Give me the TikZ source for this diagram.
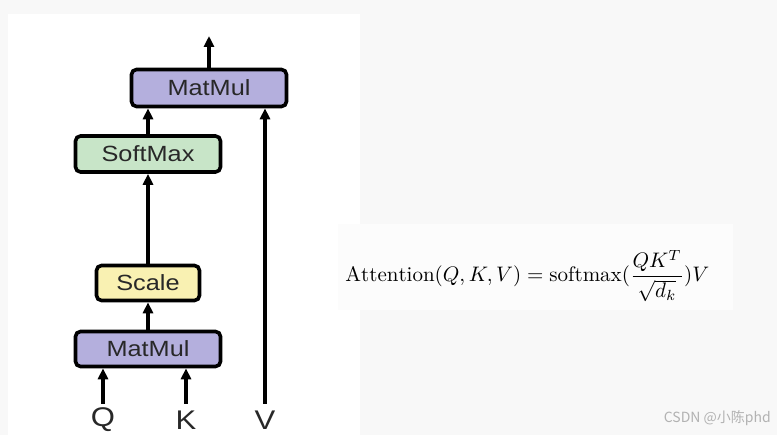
\documentclass[tikz,border=0pt]{standalone}
\usepackage{fontspec}
\usepackage{amsmath}
\setsansfont[FakeStretch=1.15]{Liberation Sans}
\newfontfamily\cjkwm{Noto Sans CJK SC}
\usetikzlibrary{arrows.meta}
\definecolor{lav}{RGB}{180,175,221}
\definecolor{mint}{RGB}{200,229,200}
\definecolor{pale}{RGB}{249,241,178}
\definecolor{bg}{RGB}{248,248,248}
\definecolor{ink}{RGB}{40,40,40}
\tikzset{
  opbox/.style={draw=black, line width=3.6pt, rounded corners=5pt, inner sep=0pt,
    font=\sffamily\fontsize{22}{22}\selectfont, text=ink},
  flow/.style={line width=3.2pt, -{Triangle[width=10pt,length=11pt]}},
  inlab/.style={font=\sffamily\fontsize{27}{27}\selectfont, text=ink, inner sep=0pt},
}
\begin{document}
\begin{tikzpicture}[x=1pt,y=-1pt]
\useasboundingbox (0,0) rectangle (777,435);
\fill[bg] (0,0) rectangle (777,435);
\fill[white] (8,14) rectangle (360,435);
\fill[white!60!bg] (338,224) rectangle (733,310);

\node[opbox, fill=lav, minimum width=155pt, minimum height=37pt] (mm2) at (209,88) {MatMul};
\node[opbox, fill=mint, minimum width=145pt, minimum height=36pt] (sm) at (148,154) {SoftMax};
\node[opbox, fill=pale, minimum width=103pt, minimum height=35pt] (sc) at (148,283) {Scale};
\node[opbox, fill=lav, minimum width=145pt, minimum height=35pt] (mm1) at (148,349) {MatMul};

\node[inlab] (Q) at (103,420) {Q};
\node[inlab] (K) at (186,420) {K};
\node[inlab] (V) at (265,420) {V};
\coordinate (out) at (209,36);

\draw[flow] (Q.north |- 0,404) -- (Q.north |- mm1.south);
\draw[flow] (K.north |- 0,404) -- (K.north |- mm1.south);
\draw[flow] (V.north |- 0,404) -- (V.north |- mm2.south);
\draw[flow] (mm1.north) -- (sc.south);
\draw[flow] (sc.north) -- (sm.south);
\draw[flow] (sm.north) -- (sm.north |- mm2.south);
\draw[flow] (mm2.north) -- (out);

\node[anchor=base west, inner sep=0pt, scale=2.1] (eq) at (345,282)
  {$\displaystyle\mathrm{Attention}(Q,K,V)=\mathrm{softmax}(\frac{QK^T}{\sqrt{d_k}})V$};

\node[anchor=east, inner sep=0pt, text=black!30, font=\cjkwm\fontsize{14}{14}\selectfont] (wm) at (771,418) {CSDN @小陈phd};
\end{tikzpicture}
\end{document}
